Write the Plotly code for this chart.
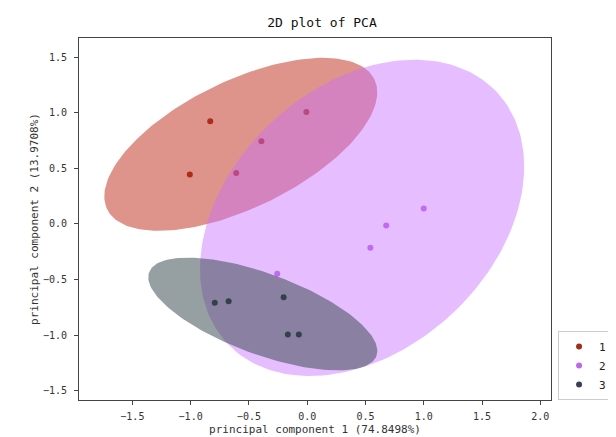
import numpy as np
import plotly.graph_objects as go

# ---- data ----
groups = ["1", "2", "3"]
pc1_g1 = [-0.832, -0.007, -0.393, -1.007, -0.609]
pc2_g1 = [0.923, 1.006, 0.743, 0.443, 0.458]
pc1_g2 = [1.000, 0.678, 0.542, -0.257]
pc2_g2 = [0.137, -0.015, -0.216, -0.449]
pc1_g3 = [-0.793, -0.674, -0.202, -0.166, -0.072]
pc2_g3 = [-0.710, -0.695, -0.659, -0.995, -0.995]

# confidence ellipse parameters (centre and scaled covariance)
ellipse_cx = [-0.570, 0.471, -0.381]
ellipse_cy = [0.715, 0.054, -0.811]
ellipse_var_x = [1.371, 1.935, 0.966]
ellipse_var_y = [0.605, 2.022, 0.257]
ellipse_cov_xy = [0.547, 0.640, -0.326]

x_ticks = [-1.5, -1.0, -0.5, 0.0, 0.5, 1.0, 1.5, 2.0]
y_ticks = [-1.5, -1.0, -0.5, 0.0, 0.5, 1.0, 1.5]

title_text = "2D plot of PCA"
x_title = "principal component 1 (74.8498%)"
y_title = "principal component 2 (13.9708%)"

# ---- styles ----
point_colors = ["#9e2f1c", "#b86ae8", "#3a4050"]
fill_colors = ["rgba(190,42,22,0.5)", "rgba(200,110,255,0.45)", "rgba(45,65,70,0.5)"]
FONT = "DejaVu Sans Mono"

xs = [pc1_g1, pc1_g2, pc1_g3]
ys = [pc2_g1, pc2_g2, pc2_g3]


def ellipse_path(cx, cy, vx, vy, cxy, n=200):
    cov = np.array([[vx, cxy], [cxy, vy]])
    vals, vecs = np.linalg.eigh(cov)
    t = np.linspace(0, 2 * np.pi, n)
    circ = np.vstack([np.cos(t), np.sin(t)])
    pts = vecs @ np.diag(np.sqrt(vals)) @ circ
    return cx + pts[0], cy + pts[1]


fig = go.Figure()
for i, g in enumerate(groups):
    fig.add_trace(go.Scatter(
        x=xs[i], y=ys[i], mode="markers", name=g,
        marker=dict(color=point_colors[i], size=6),
    ))
    ex, ey = ellipse_path(ellipse_cx[i], ellipse_cy[i], ellipse_var_x[i],
                          ellipse_var_y[i], ellipse_cov_xy[i])
    fig.add_trace(go.Scatter(
        x=ex, y=ey, mode="lines", fill="toself", fillcolor=fill_colors[i],
        line=dict(width=0), showlegend=False, hoverinfo="skip",
    ))

axis_common = dict(
    showgrid=False, zeroline=False, showline=True, mirror=True,
    linecolor="#444444", linewidth=1, ticks="outside", ticklen=4,
    tickcolor="#444444", tickformat=".1f",
    tickfont=dict(family=FONT, size=10, color="#333333"),
)

fig.update_layout(
    width=616, height=437,
    margin=dict(l=71, r=59, t=30, b=45),
    paper_bgcolor="white", plot_bgcolor="white",
    title=dict(text=title_text, x=(71 + 557) / 2 / 616, xanchor="center",
               y=1 - 14 / 437, yanchor="middle",
               font=dict(family=FONT, size=13, color="#111111")),
    xaxis=dict(range=[-1.958, 2.092], tickvals=x_ticks, ticklabelstandoff=3,
               title=dict(text=x_title, standoff=4,
                          font=dict(family=FONT, size=11, color="#333333")),
               **axis_common),
    yaxis=dict(range=[-1.584, 1.671], tickvals=y_ticks, ticklabelstandoff=5,
               title=dict(text=y_title, standoff=2,
                          font=dict(family=FONT, size=11, color="#333333")),
               **axis_common),
    legend=dict(x=1.015, xanchor="left", y=0.0, yanchor="bottom",
                bordercolor="#cccccc", borderwidth=1, bgcolor="white",
                font=dict(family=FONT, size=11, color="#222222")),
    showlegend=True,
)

fig.write_html("out.html")
